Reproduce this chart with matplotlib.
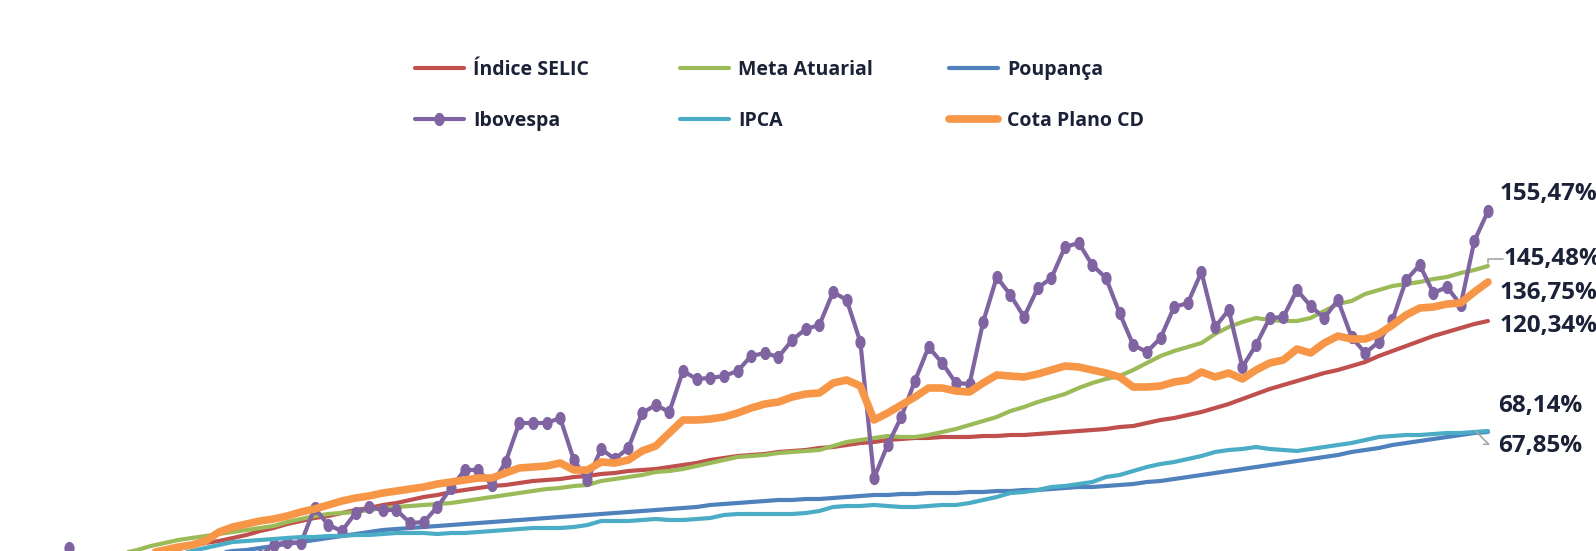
import numpy as np
import matplotlib
matplotlib.use('Agg')
import matplotlib.pyplot as plt

plt.rcParams['font.family'] = ['Open Sans', 'DejaVu Sans']

# monthly accumulated returns (%), 105 months
months = np.arange(105)

selic = [8.0, 10.0, 12.0, 13.6, 15.2, 16.8, 18.0, 19.2, 20.4, 21.6,
         22.8, 23.6, 24.8, 26.0, 27.6, 28.8, 30.4, 31.6, 32.8, 33.6,
         34.8, 36.0, 36.8, 38.0, 38.8, 40.0, 41.2, 42.0, 43.2, 44.0,
         44.8, 45.6, 46.0, 46.8, 47.6, 48.0, 48.4, 49.2, 49.6, 50.4,
         50.8, 51.6, 52.0, 52.4, 53.2, 54.0, 54.8, 56.0, 56.8, 57.6,
         58.0, 58.4, 59.2, 59.6, 60.0, 60.8, 61.2, 62.0, 62.8, 63.2,
         64.0, 64.4, 64.8, 64.8, 65.2, 65.2, 65.2, 65.6, 65.6, 66.0,
         66.0, 66.4, 66.8, 67.2, 67.6, 68.0, 68.4, 69.2, 69.6, 70.8,
         72.0, 72.8, 74.0, 75.2, 76.8, 78.4, 80.4, 82.4, 84.4, 86.0,
         87.6, 89.2, 90.8, 92.0, 93.6, 95.2, 97.6, 99.6, 101.6, 103.6,
         105.6, 107.2, 108.8, 110.4, 111.6]

meta = [10.0, 12.8, 15.2, 17.2, 18.8, 20.0, 21.6, 22.8, 24.0, 24.8,
        25.6, 26.4, 27.2, 28.0, 28.8, 29.6, 31.2, 32.4, 33.6, 34.4,
        34.8, 35.2, 36.0, 36.8, 37.2, 37.6, 38.0, 38.4, 38.8, 39.6,
        40.4, 41.2, 42.0, 42.8, 43.6, 44.4, 44.8, 45.6, 46.0, 47.6,
        48.4, 49.2, 50.0, 51.2, 51.6, 52.4, 53.6, 54.8, 56.0, 57.2,
        57.6, 58.0, 58.8, 59.2, 59.6, 60.0, 61.6, 63.2, 64.0, 64.8,
        65.6, 65.2, 65.2, 66.0, 67.2, 68.4, 70.0, 71.6, 73.2, 75.6,
        77.2, 79.2, 80.8, 82.4, 84.8, 86.8, 88.4, 89.6, 92.0, 94.8,
        97.6, 99.6, 101.2, 102.8, 106.4, 109.2, 111.2, 112.8, 112.0, 111.6,
        111.6, 112.8, 115.6, 118.4, 119.6, 122.4, 124.0, 125.6, 126.4, 127.2,
        128.4, 129.2, 130.8, 132.0, 133.6]

poupanca = [0.0, 2.0, 4.0, 6.0, 8.0, 10.0, 12.0, 13.6, 15.2, 16.8,
            18.0, 18.8, 19.6, 20.0, 20.8, 21.6, 22.4, 23.2, 24.0, 24.8,
            25.6, 26.4, 27.2, 28.0, 28.4, 28.8, 29.2, 29.6, 30.0, 30.4,
            30.8, 31.2, 31.6, 32.0, 32.4, 32.8, 33.2, 33.6, 34.0, 34.4,
            34.8, 35.2, 35.6, 36.0, 36.4, 36.8, 37.2, 38.0, 38.4, 38.8,
            39.2, 39.6, 40.0, 40.0, 40.4, 40.4, 40.8, 41.2, 41.6, 42.0,
            42.0, 42.4, 42.4, 42.8, 42.8, 42.8, 43.2, 43.2, 43.6, 43.6,
            44.0, 44.0, 44.4, 44.8, 45.2, 45.2, 45.6, 46.0, 46.4, 47.2,
            47.6, 48.4, 49.2, 50.0, 50.8, 51.6, 52.4, 53.2, 54.0, 54.8,
            55.6, 56.4, 57.2, 58.0, 59.2, 60.0, 60.8, 62.0, 62.8, 63.6,
            64.4, 65.2, 66.0, 66.8, 67.2]

ibovespa = [20.8, 10.0, 11.2, 8.0, 6.0, 8.8, 4.0, 6.4, 9.6, 8.0,
            12.0, 13.6, 11.2, 15.2, 17.6, 22.0, 23.2, 22.8, 36.8, 30.0,
            27.6, 34.8, 37.2, 36.0, 36.0, 30.8, 31.2, 37.2, 44.8, 52.0,
            52.0, 46.0, 55.2, 70.8, 70.8, 70.8, 72.8, 56.0, 48.0, 60.4,
            56.4, 60.8, 74.8, 78.0, 75.2, 91.6, 88.4, 88.8, 89.6, 91.6,
            97.6, 98.8, 97.2, 104.0, 108.4, 110.0, 123.2, 120.0, 103.2, 48.8,
            62.0, 73.2, 87.6, 101.2, 94.8, 86.8, 86.4, 111.2, 129.2, 122.0,
            113.2, 124.8, 128.8, 141.2, 142.8, 134.0, 128.8, 114.8, 102.0, 99.2,
            104.8, 117.2, 118.8, 131.2, 109.2, 116.0, 93.2, 102.0, 112.8, 113.2,
            124.0, 117.6, 112.8, 120.0, 105.2, 98.8, 103.2, 112.0, 128.0, 134.0,
            122.8, 125.2, 118.0, 143.6, 155.47]

ipca = [4.0, 6.0, 8.8, 11.2, 13.6, 15.2, 16.4, 17.6, 18.4, 19.6,
        20.8, 22.0, 23.2, 23.6, 24.0, 24.4, 24.8, 25.2, 25.2, 25.6,
        25.6, 26.0, 26.0, 26.4, 26.8, 26.8, 26.8, 26.4, 26.8, 26.8,
        27.2, 27.6, 28.0, 28.4, 28.8, 28.8, 28.8, 29.2, 30.0, 31.6,
        31.6, 31.6, 32.0, 32.4, 32.0, 32.0, 32.4, 32.8, 34.0, 34.4,
        34.4, 34.4, 34.4, 34.4, 34.8, 35.6, 37.2, 37.6, 37.6, 38.0,
        37.6, 37.2, 37.2, 37.6, 38.0, 38.0, 38.8, 40.0, 41.2, 42.8,
        43.2, 44.0, 45.2, 45.6, 46.4, 47.2, 49.2, 50.0, 51.6, 53.2,
        54.4, 55.2, 56.4, 57.6, 59.2, 60.0, 60.4, 61.2, 60.4, 60.0,
        59.6, 60.4, 61.2, 62.0, 62.8, 64.0, 65.2, 65.6, 66.0, 66.0,
        66.4, 66.8, 66.8, 67.2, 67.6]

cota = [8.0, 10.0, 12.0, 13.6, 15.2, 16.8, 18.8, 20.0, 21.2, 22.0,
        23.6, 27.2, 29.2, 30.4, 31.6, 32.4, 33.6, 35.2, 36.4, 38.0,
        39.6, 40.8, 41.6, 42.8, 43.6, 44.4, 45.2, 46.4, 47.2, 48.0,
        48.8, 48.8, 50.8, 52.8, 53.2, 53.6, 54.8, 52.0, 52.0, 55.2,
        54.8, 56.0, 59.6, 61.6, 66.8, 72.0, 72.0, 72.4, 73.2, 74.8,
        76.8, 78.4, 79.2, 81.2, 82.4, 82.8, 86.8, 88.0, 85.6, 72.0,
        74.8, 78.0, 81.2, 84.8, 84.8, 83.6, 83.2, 86.8, 90.0, 89.6,
        89.2, 90.4, 92.0, 93.6, 93.2, 92.0, 90.8, 89.2, 85.2, 85.2,
        85.6, 87.2, 88.0, 91.2, 89.2, 90.8, 88.4, 92.0, 94.8, 96.0,
        100.4, 98.8, 102.8, 105.6, 104.4, 104.4, 106.4, 110.0, 114.0, 116.8,
        117.2, 118.4, 118.8, 123.2, 127.2]

labels = ['Índice SELIC', 'Meta Atuarial', 'Poupança', 'Ibovespa', 'IPCA', 'Cota Plano CD']
end_labels = ['120,34%', '145,48%', '67,85%', '155,47%', '68,14%', '136,75%']
colors = ['#C0504D', '#9BBB59', '#4F81BD', '#8064A2', '#4BACC6', '#F79646']
series = [selic, meta, poupanca, ibovespa, ipca, cota]

W, H = 1596, 551
fig = plt.figure(figsize=(W / 100, H / 100), dpi=100)
ax = fig.add_axes([0, 0, 1, 1])
ax.axis('off')
step = 13.644
ax.set_xlim(-69 / step, (W - 69) / step)
ax.set_ylim(19.6, 240)

# slightly tall oval marker, like the original
th = np.linspace(0, 2 * np.pi, 40)
oval = list(zip(0.75 * np.cos(th), np.sin(th)))

handles = []
for s, lab, c in zip(series, labels, colors):
    if lab == 'Ibovespa':
        h, = ax.plot(months, s, color=c, lw=3, marker=oval, ms=8.5, label=lab,
                     solid_joinstyle='round', solid_capstyle='round')
    elif lab == 'Cota Plano CD':
        h, = ax.plot(months, s, color=c, lw=5.5, label=lab,
                     solid_joinstyle='round', solid_capstyle='round')
    else:
        h, = ax.plot(months, s, color=c, lw=3, label=lab,
                     solid_joinstyle='round', solid_capstyle='round')
    handles.append(h)

# end-of-line value labels (pixel offsets from the last point)
txt_color = '#1B2137'
offsets = {'Índice SELIC': (12, -5), 'Meta Atuarial': (16, 7), 'Poupança': (10, -14),
           'Ibovespa': (12, 17), 'IPCA': (10, 25), 'Cota Plano CD': (12, -11)}
for s, lab, txt in zip(series, labels, end_labels):
    dx, dy = offsets[lab]
    ax.annotate(txt, xy=(months[-1], s[-1]), xytext=(dx, dy), textcoords='offset pixels',
                ha='left', va='center', fontsize=17.5, fontweight='bold', color=txt_color,
                annotation_clip=False)

# leader lines for the two crowded labels
ax.annotate('', xy=(months[-1], meta[-1]), xytext=(15, 7), textcoords='offset pixels',
            arrowprops=dict(arrowstyle='-', color='#A6A6A6', lw=1.2,
                            connectionstyle='angle,angleA=0,angleB=90,rad=0',
                            shrinkA=0, shrinkB=2))
ax.annotate('', xy=(months[-1] - 0.9, poupanca[-1] + 0.3), xytext=(8, -13), textcoords='offset pixels',
            arrowprops=dict(arrowstyle='-', color='#A6A6A6', lw=1.2,
                            connectionstyle='angle,angleA=0,angleB=-45,rad=0',
                            shrinkA=0, shrinkB=0))

# legend: two rows, three columns
leg_pos = [(415, 70), (680, 70), (949, 70), (415, 121), (680, 121), (949, 121)]
for h, lab, (px, py) in zip(handles, labels, leg_pos):
    leg = fig.legend(handles=[h], labels=[lab], loc='center left',
                     bbox_to_anchor=(px / W, 1 - py / H), frameon=False,
                     borderpad=0, borderaxespad=0, handlelength=2.5,
                     handletextpad=0.5, numpoints=1,
                     prop={'size': 14, 'weight': 'bold'})
    for t in leg.get_texts():
        t.set_color(txt_color)

fig.savefig('out.png', dpi=100)
